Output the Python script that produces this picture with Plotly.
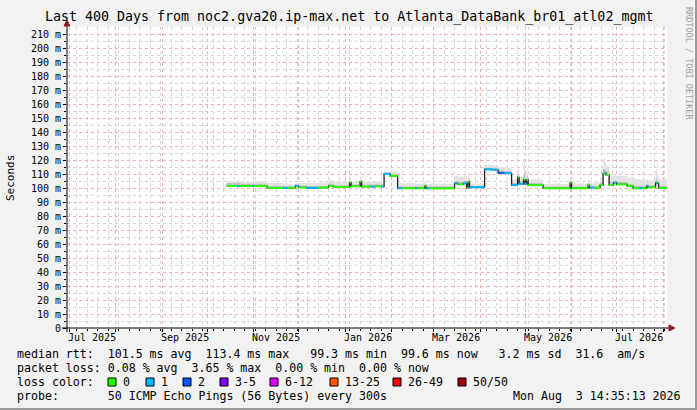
import plotly.graph_objects as go

# данные (SmokePing, 400 дней)
t_start = "2025-06-29 14:35:13"
t_end = "2026-08-03 14:35:13"

dates = [
    "2025-10-14", "2025-10-21", "2025-10-23", "2025-10-31", "2025-11-01",
    "2025-11-10", "2025-11-21", "2025-11-24", "2025-11-29", "2025-12-01",
    "2025-12-06", "2025-12-14", "2025-12-21", "2025-12-24", "2026-01-04",
    "2026-01-05", "2026-01-11", "2026-01-12", "2026-01-18", "2026-01-21",
    "2026-01-25", "2026-01-27", "2026-01-31", "2026-02-05", "2026-02-08",
    "2026-02-17", "2026-02-18", "2026-02-23", "2026-02-24", "2026-02-26",
    "2026-03-15", "2026-03-17", "2026-03-21", "2026-03-23", "2026-03-24",
    "2026-03-25", "2026-04-04", "2026-04-09", "2026-04-13", "2026-04-17",
    "2026-04-22", "2026-04-26", "2026-04-27", "2026-04-30", "2026-05-01",
    "2026-05-02", "2026-05-03", "2026-05-13", "2026-05-31", "2026-06-01",
    "2026-06-12", "2026-06-13", "2026-06-16", "2026-06-20", "2026-06-22",
    "2026-06-23", "2026-06-24", "2026-06-26", "2026-06-29", "2026-07-01",
    "2026-07-08", "2026-07-12", "2026-07-16", "2026-07-18", "2026-07-21",
    "2026-07-22", "2026-07-27", "2026-07-28", "2026-07-29", "2026-08-03 14:35",
]
median = [
    101.5, 101.3, 101.4, 101.4, 101.4,
    100.1, 100.0, 100.1, 101.5, 100.4,
    100.1, 100.3, 101.6, 100.8, 103.8,
    101.2, 104.5, 101.0, 101.0, 101.2,
    101.0, 110.0, 108.6, 99.8, 99.8,
    99.8, 99.8, 101.4, 99.7, 99.7,
    103.3, 102.6, 103.3, 100.0, 104.5,
    100.5, 113.3, 113.0, 110.8, 110.5,
    102.1, 107.6, 103.0, 106.0, 103.0,
    105.7, 102.0, 99.8, 103.8, 99.8,
    102.0, 100.3, 100.2, 102.1, 110.5,
    110.5, 109.3, 102.1, 103.8, 102.6,
    101.3, 99.8, 99.8, 99.8, 101.4,
    100.5, 103.9, 103.3, 99.9, 99.6,
]
# число потерянных пингов -> индекс цвета
loss = [
    0, 1, 0, 1, 0,
    0, 1, 0, 1, 0,
    1, 0, 0, 0, 0,
    0, 0, 0, 1, 0,
    1, 1, 0, 1, 0,
    1, 0, 0, 1, 0,
    1, 0, 1, 0, 0,
    1, 1, 1, 2, 1,
    1, 0, 1, 0, 1,
    0, 0, 0, 0, 0,
    0, 1, 0, 0, 0,
    1, 0, 0, 1, 0,
    0, 0, 1, 0, 1,
    0, 0, 1, 0, 0,
]
smoke_mid = [
    103.5, 103.5, 103.0, 103.0, 103.0,
    101.5, 101.5, 101.5, 102.5, 101.5,
    101.5, 101.5, 103.0, 102.0, 105.0,
    102.5, 105.5, 102.5, 102.5, 102.5,
    102.5, 111.0, 110.0, 101.0, 101.0,
    101.0, 101.0, 102.5, 101.0, 101.0,
    105.0, 104.5, 105.0, 101.5, 106.0,
    101.5, 114.5, 114.5, 112.5, 112.0,
    103.5, 110.0, 105.0, 110.0, 105.0,
    108.0, 103.5, 101.0, 105.0, 101.0,
    103.5, 101.5, 101.5, 104.0, 114.0,
    113.0, 112.0, 104.5, 105.5, 104.5,
    103.0, 101.5, 101.5, 101.5, 103.0,
    102.0, 107.0, 105.0, 101.5, 101.5,
]
smoke_hi = [
    105.0, 105.5, 104.5, 104.5, 105.0,
    103.5, 103.0, 103.0, 104.0, 103.5,
    103.5, 104.0, 105.5, 104.5, 107.5,
    104.5, 107.0, 104.5, 104.5, 104.5,
    104.0, 112.0, 111.5, 103.5, 103.5,
    103.0, 103.0, 105.5, 103.0, 103.0,
    109.0, 108.0, 109.0, 104.0, 111.0,
    103.0, 116.5, 116.5, 115.0, 114.5,
    106.0, 114.0, 108.0, 121.0, 109.0,
    112.0, 106.0, 103.0, 107.5, 103.0,
    106.0, 103.5, 104.0, 108.0, 121.0,
    118.0, 116.0, 108.5, 109.0, 108.5,
    107.5, 106.5, 106.0, 106.0, 106.0,
    105.5, 113.5, 109.0, 106.0, 106.0,
]

loss_labels = ["0", "1", "2", "3-5", "6-12", "13-25", "26-49", "50/50"]
loss_colors = ["#26ff00", "#00b8ff", "#0059ff", "#7e00ff", "#dd00ff", "#ff5500", "#ff0000", "#a00000"]

y_tick_vals = [0, 10, 20, 30, 40, 50, 60, 70, 80, 90, 100,
               110, 120, 130, 140, 150, 160, 170, 180, 190, 200, 210]
y_tick_text = ["0", "10 m", "20 m", "30 m", "40 m", "50 m", "60 m", "70 m", "80 m", "90 m", "100 m",
               "110 m", "120 m", "130 m", "140 m", "150 m", "160 m", "170 m", "180 m", "190 m", "200 m", "210 m"]
y_minor_vals = [5, 15, 25, 35, 45, 55, 65, 75, 85, 95, 105,
                115, 125, 135, 145, 155, 165, 175, 185, 195, 205]

x_label_dates = ["2025-07-16", "2025-09-16", "2025-11-16", "2026-01-16",
                 "2026-03-16", "2026-05-16", "2026-07-16"]
x_labels = ["Jul 2025", "Sep 2025", "Nov 2025", "Jan 2026", "Mar 2026", "May 2026", "Jul 2026"]

title = "Last 400 Days from noc2.gva20.ip-max.net to Atlanta_DataBank_br01_atl02_mgmt"
line_rtt = "median rtt:  101.5 ms avg  113.4 ms max   99.3 ms min  99.6 ms now   3.2 ms sd  31.6  am/s"
line_loss = "packet loss: 0.08 % avg  3.65 % max  0.00 % min  0.00 % now"
line_probe = "probe:       50 ICMP Echo Pings (56 Bytes) every 300s"
stamp = "Mon Aug  3 14:35:13 2026"

# геометрия картинки rrdtool
W, H = 697, 410
PL, PR, PT, PB = 67, 667, 27, 328
MONO = "DejaVu Sans Mono"
MGRID = "#f4b0b0"
GRID = "#d4d4d4"


def px(x):
    return (x - PL) / (PR - PL)


def py(y):
    return (PB - y) / (PB - PT)


def nb(s):
    # пробелы в svg схлопываются
    return s.replace(" ", "\u00a0")


fig = go.Figure()

# дым: светлый внешний слой и темнее внутренний
fig.add_trace(go.Scatter(x=dates, y=median, mode="lines", line=dict(width=0, shape="hv"), hoverinfo="skip"))
fig.add_trace(go.Scatter(x=dates, y=smoke_hi, mode="lines", line=dict(width=0, shape="hv"),
                         fill="tonexty", fillcolor="#e3e3e3", hoverinfo="skip"))
fig.add_trace(go.Scatter(x=dates, y=median, mode="lines", line=dict(width=0, shape="hv"), hoverinfo="skip"))
fig.add_trace(go.Scatter(x=dates, y=smoke_mid, mode="lines", line=dict(width=0, shape="hv"),
                         fill="tonexty", fillcolor="#c2c2c2", hoverinfo="skip"))

# медиана: тёмная линия + цвет по потерям
fig.add_trace(go.Scatter(x=dates, y=median, mode="lines", line=dict(color="#202020", width=1.3, shape="hv")))
for c in range(len(loss_colors)):
    xs, ys = [], []
    for i in range(len(dates) - 1):
        if loss[i] == c:
            xs += [dates[i], dates[i + 1], None]
            ys += [median[i], median[i], None]
    if xs:
        fig.add_trace(go.Scatter(x=xs, y=ys, mode="lines", line=dict(color=loss_colors[c], width=2)))

fig.update_xaxes(
    type="date", range=[t_start, t_end], tickmode="linear", tick0="2025-07-01", dtick="M1",
    showticklabels=False, showgrid=True, gridcolor=MGRID, griddash="dot", gridwidth=1,
    ticks="outside", ticklen=3, tickcolor="black", zeroline=False, showline=False,
    minor=dict(tickmode="linear", tick0="2025-07-06", dtick=7 * 24 * 3600 * 1000, showgrid=True,
               gridcolor=GRID, griddash="dot", ticks="outside", ticklen=2, tickcolor="black"),
)
fig.update_yaxes(
    range=[0, 215], tickmode="array", tickvals=y_tick_vals, ticktext=y_tick_text,
    showgrid=True, gridcolor=MGRID, griddash="dot", gridwidth=1,
    ticks="outside", ticklen=3, tickcolor="black", zeroline=False, showline=False,
    tickfont=dict(family=MONO, size=10, color="black"),
    minor=dict(tickmode="array", tickvals=y_minor_vals, showgrid=True, gridcolor=GRID,
               griddash="dot", ticks="outside", ticklen=2, tickcolor="black"),
)

ann = []
ann.append(dict(x=px(348.5), y=py(17), text=nb(title), font=dict(size=13.3)))
ann.append(dict(x=px(10), y=py(178), text="Seconds", textangle=-90, font=dict(size=11)))
ann.append(dict(x=px(689), y=py(63), text=nb("RRDTOOL / TOBI OETIKER"), textangle=90,
                font=dict(size=8.5, color="#a0a0a0")))
for d, lab in zip(x_label_dates, x_labels):
    ann.append(dict(x=d, xref="x", y=py(337), text=nb(lab), font=dict(size=10)))
for row_y, txt in [(354, line_rtt), (368, line_loss), (382, "loss color:"), (396, line_probe)]:
    ann.append(dict(x=px(15), y=py(row_y), text=nb(txt), xanchor="left", font=dict(size=11.6)))
ann.append(dict(x=px(683), y=py(396), text=nb(stamp), xanchor="right", font=dict(size=11.6)))

# квадратики легенды потерь
swatch_x = [108, 146, 183, 220, 270, 330, 393, 458]
shapes = []
for sx, lab, col in zip(swatch_x, loss_labels, loss_colors):
    shapes.append(dict(type="rect", xref="paper", yref="paper", x0=px(sx), x1=px(sx + 8),
                       y0=py(386), y1=py(378), fillcolor=col, line=dict(color="black", width=1)))
    ann.append(dict(x=px(sx + 13), y=py(382), text=nb(lab), xanchor="left", font=dict(size=11.6)))

for a in ann:
    a.setdefault("xref", "paper")
    a["yref"] = "paper"
    a["showarrow"] = False
    a.setdefault("yanchor", "middle")
    a.setdefault("xanchor", "center")
    a["font"] = dict(family=MONO, color=a["font"].get("color", "black"), size=a["font"]["size"])

# оси со стрелками
shapes.append(dict(type="line", xref="paper", yref="paper", x0=px(62), x1=px(671), y0=0, y1=0,
                   line=dict(color="black", width=1)))
shapes.append(dict(type="line", xref="paper", yref="paper", x0=0, x1=0, y0=py(332), y1=py(24),
                   line=dict(color="black", width=1)))
shapes.append(dict(type="path", xref="paper", yref="paper",
                   path=f"M {px(669)},{py(325)} L {px(675)},{py(328)} L {px(669)},{py(331)} Z",
                   fillcolor="#8b1a1a", line=dict(color="#8b1a1a", width=1)))
shapes.append(dict(type="path", xref="paper", yref="paper",
                   path=f"M {px(64)},{py(26)} L {px(67)},{py(20)} L {px(70)},{py(26)} Z",
                   fillcolor="#8b1a1a", line=dict(color="#8b1a1a", width=1)))
# рамка
shapes.append(dict(type="line", xref="paper", yref="paper", x0=px(0), x1=px(697), y0=py(409), y1=py(409),
                   line=dict(color="#9c9c9c", width=2)))
shapes.append(dict(type="line", xref="paper", yref="paper", x0=px(696), x1=px(696), y0=py(0), y1=py(410),
                   line=dict(color="#9c9c9c", width=2)))

fig.update_layout(
    width=W, height=H, margin=dict(l=PL, r=W - PR, t=PT, b=H - PB),
    paper_bgcolor="#f2f2f2", plot_bgcolor="white", showlegend=False,
    font=dict(family=MONO, size=10, color="black"),
    annotations=ann, shapes=shapes,
)

fig.write_html("out.html", config={"displayModeBar": False},
               post_script="document.body.style.margin='0';document.body.style.overflow='hidden';")
